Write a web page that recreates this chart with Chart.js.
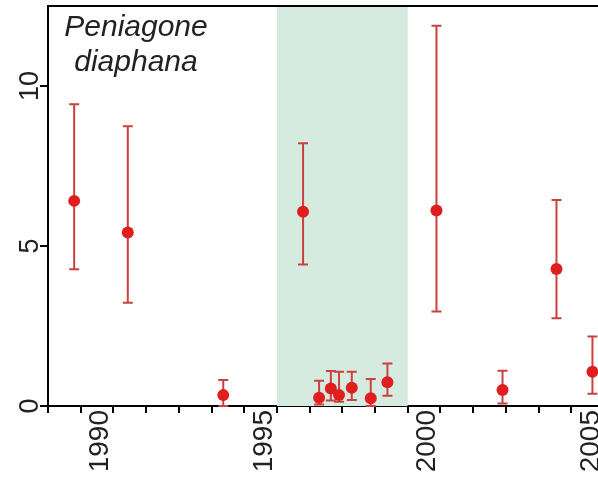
<!DOCTYPE html>
<html>
<head>
<meta charset="utf-8">
<script src="https://cdn.jsdelivr.net/npm/chart.js@4/dist/chart.umd.min.js"></script>
<style>
  html, body { margin: 0; padding: 0; background: #fff; overflow: hidden; }
  #wrap { width: 598px; height: 481px; overflow: hidden; }
  canvas { display: block; }
</style>
</head>
<body>
<div id="wrap"><canvas id="c" width="660" height="481"></canvas></div>
<script>
// Sampling dates (decimal years) and densities with error range
const years = [1989.80, 1991.44, 1994.36, 1996.80, 1997.29, 1997.65, 1997.90, 1998.29, 1998.87, 1999.38, 2000.88, 2002.90, 2004.55, 2005.65];
const means = [6.41, 5.42, 0.34, 6.07, 0.26, 0.55, 0.34, 0.57, 0.24, 0.74, 6.11, 0.50, 4.28, 1.07];
const lows  = [4.27, 3.23, 0.00, 4.42, 0.05, 0.17, 0.13, 0.19, 0.00, 0.32, 2.95, 0.08, 2.74, 0.38];
const highs = [9.43, 8.74, 0.81, 8.21, 0.79, 1.09, 1.07, 1.07, 0.84, 1.33, 11.88, 1.10, 6.44, 2.17];

// Axis labels and the shaded period
const yTickValues = [0, 5, 10];
const yearLabels = [1990, 1995, 2000, 2005];
const shadedPeriod = [1996, 2000];
const speciesLines = ['Peniagone', 'diaphana'];

const FONT = '"Liberation Sans", Arial, sans-serif';

const decorations = {
  id: 'decorations',
  beforeDatasetsDraw(chart) {
    const { ctx, chartArea, scales } = chart;
    const x = scales.x, y = scales.y;
    ctx.save();
    // shaded period
    const x0 = x.getPixelForValue(shadedPeriod[0]);
    const x1 = x.getPixelForValue(shadedPeriod[1]);
    ctx.fillStyle = 'rgb(214,235,223)';
    ctx.fillRect(x0, chartArea.top, x1 - x0, chartArea.bottom - chartArea.top);
    // error bars
    ctx.strokeStyle = 'rgb(204,64,64)';
    ctx.lineWidth = 2;
    for (let i = 0; i < years.length; i++) {
      const px = x.getPixelForValue(years[i]);
      const pl = y.getPixelForValue(lows[i]);
      const ph = y.getPixelForValue(highs[i]);
      ctx.beginPath();
      ctx.moveTo(px, pl); ctx.lineTo(px, ph);
      ctx.moveTo(px - 5, ph); ctx.lineTo(px + 5, ph);
      ctx.moveTo(px - 5, pl); ctx.lineTo(px + 5, pl);
      ctx.stroke();
    }
    ctx.restore();
  },
  afterDraw(chart) {
    const { ctx, chartArea, scales } = chart;
    const x = scales.x, y = scales.y;
    ctx.save();
    // top frame line
    ctx.strokeStyle = '#000';
    ctx.lineWidth = 2;
    ctx.beginPath();
    ctx.moveTo(chartArea.left, chartArea.top);
    ctx.lineTo(chartArea.right, chartArea.top);
    ctx.stroke();
    ctx.fillStyle = '#222';
    // y tick labels, rotated
    ctx.font = '27px ' + FONT;
    ctx.textAlign = 'center';
    ctx.textBaseline = 'alphabetic';
    yTickValues.forEach(v => {
      ctx.save();
      ctx.translate(chartArea.left - 10, y.getPixelForValue(v));
      ctx.rotate(-Math.PI / 2);
      ctx.fillText(String(v), 0, 0);
      ctx.restore();
    });
    // x labels, centred in the year they name
    ctx.font = '28px ' + FONT;
    ctx.textAlign = 'right';
    yearLabels.forEach(yr => {
      ctx.save();
      ctx.translate(x.getPixelForValue(yr + 0.5) + 11, chartArea.bottom + 4);
      ctx.rotate(-Math.PI / 2);
      ctx.fillText(String(yr), 0, 0);
      ctx.restore();
    });
    // species name
    ctx.font = 'italic 30px ' + FONT;
    ctx.textAlign = 'center';
    ctx.fillText(speciesLines[0], 136, 36);
    ctx.fillText(speciesLines[1], 136, 71);
    ctx.restore();
  }
};

new Chart(document.getElementById('c'), {
  type: 'scatter',
  data: {
    datasets: [{
      data: years.map((yr, i) => ({ x: yr, y: means[i] })),
      pointRadius: 6,
      pointHoverRadius: 6,
      pointBackgroundColor: 'rgb(224,30,30)',
      pointBorderColor: 'rgb(224,30,30)',
      pointBorderWidth: 0
    }]
  },
  options: {
    responsive: false,
    animation: false,
    events: [],
    layout: { padding: { top: 6, right: 23.4, left: 0, bottom: 0 } },
    plugins: { legend: { display: false }, tooltip: { enabled: false } },
    scales: {
      x: {
        type: 'linear',
        min: 1989,
        max: 2007,
        ticks: { display: false, stepSize: 1 },
        grid: { drawOnChartArea: false, drawTicks: true, tickLength: 7, lineWidth: 2, color: '#000' },
        border: { display: true, width: 2, color: '#000' },
        afterFit(scale) { scale.height = 75; }
      },
      y: {
        type: 'linear',
        min: 0,
        max: 12.5,
        ticks: { display: false },
        afterBuildTicks(scale) { scale.ticks = yTickValues.map(v => ({ value: v })); },
        grid: { drawOnChartArea: false, drawTicks: true, tickLength: 8, lineWidth: 2, color: '#000' },
        border: { display: true, width: 2, color: '#000' },
        afterFit(scale) { scale.width = 48; }
      }
    }
  },
  plugins: [decorations]
});
</script>
</body>
</html>
